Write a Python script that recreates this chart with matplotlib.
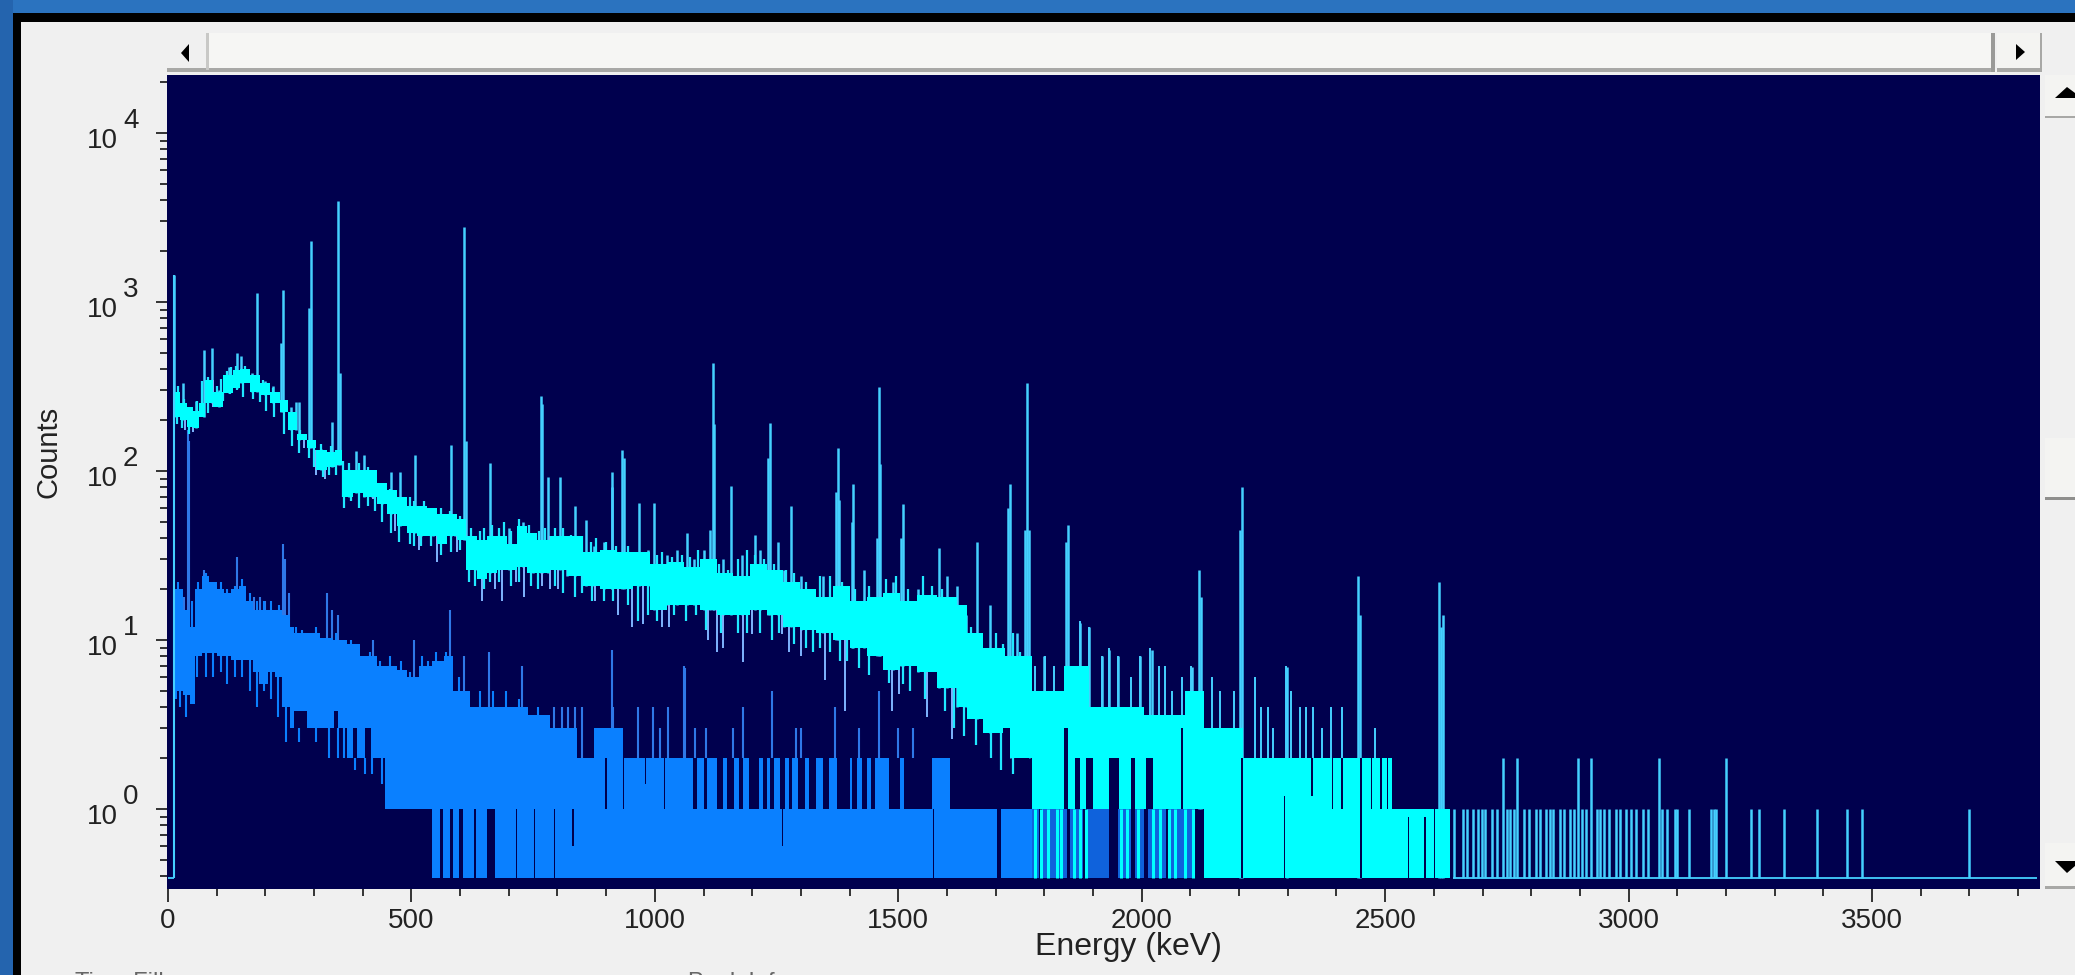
import numpy as np
import matplotlib
matplotlib.use('Agg')
import matplotlib.pyplot as plt
from matplotlib.patches import Rectangle, Polygon
from matplotlib.ticker import FixedLocator, NullFormatter

plt.rcParams['font.family'] = ['Liberation Sans', 'DejaVu Sans']

BG = '#00004e'
CYAN = '#00ffff'
BLUE = '#0a80ff'
SPIKE = '#45d0ff'
PALE = '#7fb4ff'
BLUE_LINE = '#2f78e8'

x_ticks = [0, 500, 1000, 1500, 2000, 2500, 3000, 3500]
decades = [0, 1, 2, 3, 4]

# upper spectrum: band of channel scatter (energy, low, high)
cyan_e = [14, 25, 40, 52, 64, 76, 93, 114, 134, 148, 168, 189, 209, 230, 247, 264, 285, 305, 326, 343,
          357, 381, 401, 429, 450, 470, 491, 511, 532, 552, 573, 593, 613, 634, 655, 675, 696, 716, 737, 757,
          785, 819, 853, 888, 922, 956, 990, 1025, 1059, 1093, 1127, 1161, 1195, 1230, 1264, 1298, 1332, 1366, 1401, 1435,
          1469, 1504, 1538, 1580, 1620, 1641, 1675, 1720, 1775, 1840, 1892, 2004, 2089, 2128, 2207, 2515, 2633, 2655]
cyan_lo = [210, 200, 183, 180, 210, 251, 240, 288, 308, 330, 295, 282, 251, 224, 175, 153, 136, 101, 106, 109,
           70, 74, 70, 64, 56, 47, 43, 41, 41, 37, 41, 39, 26, 23, 25, 26, 26, 27, 25, 25,
           26, 24, 21, 20, 20, 21, 15, 16, 16, 15, 14, 14, 15, 14, 12, 11.5, 11, 10, 9, 8,
           6.6, 7, 6.5, 5.2, 4, 3.4, 2.8, 2, 1, 1, 1, 1, 1, 0.39, 0.39, 0.39, 0.39, 0.39]
cyan_hi = [295, 251, 240, 225, 251, 346, 295, 370, 396, 400, 370, 330, 295, 262, 224, 165, 153, 133, 130, 133,
           101, 101, 101, 85, 77, 70, 62, 62, 60, 56, 56, 52, 41, 39, 41, 41, 37, 47, 43, 39,
           41, 41, 33, 34, 33, 33, 28, 29, 27, 30, 25, 24, 28, 26, 22, 20, 18, 21, 17, 18,
           19, 17, 18.5, 18, 16, 11, 9, 8, 5, 7, 4, 3.6, 5, 3, 2, 1, 0.39, 0.39]

# short channels on both edges of the upper band
cyan_top_e = [20, 33, 47, 60, 70, 83, 100, 108, 122, 130, 140, 158, 163, 178, 195, 203, 215, 225, 240, 255,
              272, 280, 300, 315, 335, 360, 372, 392, 410, 425, 440, 455, 463, 480, 498, 505, 525, 540, 560, 580,
              600, 622, 640, 650, 665, 680, 690, 705, 722, 742, 763, 775, 795, 812, 828, 845, 868, 880, 900, 920,
              945, 965, 975, 1005, 1015, 1035, 1055, 1072, 1088, 1105, 1132, 1150, 1170, 1190, 1205, 1225, 1245, 1270, 1285, 1310,
              1325, 1340, 1360, 1385, 1412, 1440, 1475, 1495, 1520, 1550, 1570, 1590, 1610, 1630, 1650, 1670, 1700, 1715, 1735, 1750]
cyan_top_v = [320, 265, 240, 260, 340, 360, 320, 350, 390, 410, 420, 420, 400, 370, 345, 330, 310, 290, 240, 200,
              175, 160, 150, 145, 140, 115, 112, 112, 105, 95, 85, 78, 76, 68, 70, 66, 66, 60, 60, 58,
              54, 46, 44, 46, 48, 46, 50, 44, 52, 48, 44, 46, 46, 46, 42, 38, 38, 40, 38, 36,
              36, 33, 31, 32, 33, 31, 32, 31, 34, 30, 28, 26, 30, 34, 32, 30, 28, 26, 25, 22,
              20, 24, 24, 22, 20, 21, 23, 24, 20, 24, 21, 20, 17, 15, 12, 10.5, 11, 9.5, 11, 8.5]
cyan_low_e = [18, 28, 43, 58, 68, 82, 100, 112, 128, 142, 155, 175, 190, 202, 218, 238, 255, 270, 290, 300,
              318, 330, 345, 362, 375, 392, 410, 425, 440, 458, 475, 498, 505, 520, 540, 560, 582, 600, 618, 630,
              650, 662, 680, 705, 722, 745, 760, 795, 812, 835, 850, 870, 895, 915, 945, 965, 985, 1005, 1040, 1065,
              1085, 1105, 1135, 1170, 1190, 1215, 1240, 1255, 1285, 1310, 1325, 1340, 1360, 1380, 1395, 1420, 1440, 1480, 1510, 1525,
              1555, 1595, 1615, 1635, 1660, 1690, 1710, 1735, 1755]
cyan_low_v = [190, 180, 165, 190, 230, 220, 260, 260, 285, 300, 275, 265, 255, 225, 210, 165, 140, 128, 120, 105,
              92, 95, 95, 60, 66, 60, 62, 58, 50, 43, 38, 37, 36, 36, 36, 32, 33, 34, 22, 21,
              20, 22, 22, 21, 22, 21, 20, 21, 19, 18, 19, 17, 17, 17, 16, 13, 14, 13, 14, 13,
              14, 11.5, 11, 11, 11, 11, 10, 11, 9.5, 9, 8.5, 9, 8.5, 7.5, 7.5, 6.8, 6.2, 5.6, 5.5, 5,
              4.5, 3.8, 3, 2.7, 2.4, 2, 1.7, 1.6, 1.4]

# line peaks and teeth above the upper band
cyan_peak_e = [12, 73, 91, 142, 150, 182, 233, 237, 262, 269, 290, 294, 337, 349, 354, 386, 402, 459, 477, 507,
               581, 607, 612, 661, 766, 769, 781, 805, 837, 859, 911, 913, 933, 936, 967, 999, 1067, 1114, 1119, 1122,
               1156, 1205, 1232, 1237, 1252, 1280, 1372, 1376, 1379, 1404, 1408, 1456, 1460, 1463, 1506, 1510, 1583, 1621, 1662, 1689,
               1726, 1730, 1743, 1760, 1764, 1768, 1800, 1845, 1849, 1873, 1892, 1919, 1933, 1951, 1997, 2021, 2103, 2118, 2121, 2202,
               2206, 2298, 2445, 2449, 2611, 2615, 2619,
               30, 58, 105, 125, 172, 200, 215, 252, 315, 372, 420, 440, 520, 545, 590, 630, 645, 700, 730, 750,
               820, 875, 895, 985, 1025, 1045, 1080, 1100, 1140, 1180, 1215, 1265, 1300, 1345, 1430, 1490, 1540, 1600, 1640]
cyan_peak_v = [1445, 520, 533, 500, 480, 1130, 570, 1175, 256, 256, 920, 2290, 195, 3980, 380, 132, 125, 98, 98, 124,
               142, 2770, 150, 112, 277, 250, 92, 92, 62, 51, 98, 80, 133, 120, 65, 65, 43, 45, 437, 190,
               82, 42, 120, 193, 38, 62, 75, 136, 67, 50, 84, 40, 315, 110, 40, 64, 35, 21, 38, 16,
               60, 84, 11, 45, 333, 45, 8, 38, 48, 12.6, 12, 8, 8.7, 8, 8, 8.7, 6.9, 26, 18, 45,
               80, 6.9, 24, 14, 22, 12, 14,
               330, 260, 300, 410, 380, 340, 320, 240, 135, 100, 78, 68, 52, 50, 42, 36, 34, 46, 50, 42,
               38, 36, 38, 34, 32, 34, 30, 34, 30, 32, 34, 26, 24, 24, 26, 22, 20, 24, 14]

# dips under the upper band
cyan_dip_e = [35, 52, 92, 279, 305, 323, 422, 467, 515, 553, 594, 645, 672, 686, 714, 732, 768, 785, 802, 877,
              925, 953, 975, 1015, 1029, 1110, 1128, 1140, 1182, 1199, 1261, 1275, 1300, 1350, 1390, 1465, 1488, 1501, 1560, 1610]
cyan_dip_v = [175, 170, 240, 136, 95, 90, 68, 44, 34, 29, 33, 17, 20, 17, 22, 18, 21, 20, 20, 17,
              14, 12, 12.5, 12, 12, 10, 8.5, 9, 7.4, 10.8, 10.8, 8.5, 8, 5.8, 3.8, 11, 3.8, 4.8, 3.5, 2.6]

# single channels above the band past 1775 keV
cyan_tooth_e = [1781, 1801, 1820, 1873, 1892, 1919, 1932, 1951, 1977, 1997, 2016, 2036, 2047, 2063, 2082, 2102, 2144, 2161, 2190, 2233,
                2246, 2259, 2270, 2296, 2306, 2325, 2338, 2351, 2388, 2412, 2480, 2370]
cyan_tooth_v = [7, 8, 7, 13, 12, 8, 9, 8, 6, 8, 9, 7, 7, 5, 6, 7, 6, 5, 5, 6,
                4, 4, 3, 7, 5, 4, 4, 4, 4, 4, 3, 3]

# single channels at one or two counts past the band
lone_e = [2743, 2771, 2896, 2923, 3062, 3200,
          2642, 2660, 2668, 2680, 2690, 2698, 2705, 2720, 2730, 2750, 2757, 2765, 2785, 2795,
          2810, 2818, 2830, 2838, 2845, 2860, 2868, 2880, 2888, 2905, 2912, 2935, 2942, 2950,
          2960, 2975, 2982, 2995, 3005, 3015, 3030, 3040, 3068, 3078, 3095, 3100, 3124, 3170,
          3175, 3180, 3252, 3268, 3320, 3388, 3449, 3480, 3700]
lone_v = [2, 2, 2, 2, 2, 2,
          1, 1, 1, 1, 1, 1, 1, 1, 1, 1, 1, 1, 1, 1,
          1, 1, 1, 1, 1, 1, 1, 1, 1, 1, 1, 1, 1, 1,
          1, 1, 1, 1, 1, 1, 1, 1, 1, 1, 1, 1, 1, 1,
          1, 1, 1, 1, 1, 1, 1, 1, 1]

# lower spectrum band
blue_e = [14, 30, 45, 55, 70, 85, 100, 115, 130, 145, 160, 175, 190, 205, 220, 235, 250, 258, 285, 312,
          339, 367, 394, 429, 446, 470, 491, 515, 542, 566, 586, 620, 680, 740, 785, 840, 875, 935, 1607, 1775]
blue_lo = [5, 4.7, 4.2, 8, 8.4, 8.4, 8, 8, 7.6, 7.6, 7.6, 6.5, 5.5, 6.5, 6, 4, 3, 3, 3, 3,
           3, 2, 2, 2, 1, 1, 1, 1, 0.39, 0.39, 0.39, 0.39, 0.39, 0.39, 0.39, 0.39, 0.39, 0.39, 0.39, 0.39]
blue_hi = [20, 15, 12, 20, 24, 22, 20, 19, 20, 21, 17, 15, 15, 15, 15, 14, 12, 11, 11, 10.3,
           10, 9.5, 8, 7, 7, 6.6, 6, 7, 7.5, 8, 5, 4, 4, 3.6, 3, 2, 3, 2, 1, 1]

blue_top_e = [20, 28, 36, 50, 62, 78, 95, 108, 122, 137, 152, 168, 182, 197, 212, 228, 244, 262, 275, 295,
              305, 320, 345, 358, 375, 385, 405, 415, 435, 455, 478, 498, 522, 535, 550, 572, 598, 612, 640, 668,
              695, 720, 760]
blue_top_v = [22, 16, 14, 17, 22, 25, 22, 22, 20, 21, 23, 19, 17, 17, 17, 16, 13, 12, 11.5, 11,
              12, 10, 11, 10, 10, 9.5, 8, 8.5, 7.5, 8, 7.5, 6.5, 8, 7.5, 8.5, 8.5, 6, 5, 5, 5,
              5, 4.5, 4]
blue_low_e = [16, 24, 38, 50, 60, 78, 93, 108, 122, 138, 152, 168, 183, 198, 212, 225, 243, 270, 305, 330,
              350, 362, 385, 405, 420, 440]
blue_low_v = [4.5, 4, 3.5, 5, 6, 6, 6, 6.5, 5.5, 6, 6, 5, 4, 5, 4.5, 3.5, 2.5, 2.5, 2.5, 2,
              2, 2, 1.7, 1.6, 1.6, 1.4]

blue_peak_e = [42, 44, 33, 73, 90, 142, 176, 190, 200, 237, 240, 248, 326, 337, 350, 422, 505, 580, 607, 659,
               727, 912, 1062, 792, 810, 822, 836, 851, 915, 965, 997, 1028, 1082, 1182, 1060, 1010, 1240, 1300, 1370, 1460,
               1530, 1105, 1160, 1290, 1420, 1500]
blue_peak_v = [175, 150, 18, 26, 22, 31, 18, 18, 17, 37, 30, 19, 19, 15, 14, 10, 10, 15, 8, 8.5,
               7, 8.7, 6.8, 4, 4, 4, 4, 4, 4, 4, 4, 4, 3, 4, 7, 3, 5, 3, 4, 5,
               3, 3, 3, 3, 3, 3]

# empty stretches cut out of the spectra (start, end, low, high)
gap_s = [258, 342, 380, 405, 528, 558, 579, 597, 628, 655, 714, 751, 792, 830, 898, 934, 980, 1018, 1026, 1078,
         1100, 1127, 1148, 1172, 1193, 1223, 1237, 1258, 1275, 1295, 1316, 1345, 1374, 1405, 1425, 1443, 1480, 1511, 1261, 1571,
         1634, 1703, 1788, 1846, 1880, 1932, 1978, 2005, 2050,
         1716, 1742, 1840, 1862, 1886, 1934, 1978, 2008, 2080, 2204, 2292, 2348, 2390, 2410, 2449, 2470, 2490, 2503, 2547, 2580,
         2600]
gap_e = [285, 350, 388, 416, 540, 565, 585, 606, 633, 672, 716, 753, 794, 833, 901, 937, 982, 1020, 1028, 1086,
         1107, 1141, 1162, 1182, 1213, 1230, 1245, 1268, 1282, 1309, 1330, 1358, 1401, 1415, 1435, 1453, 1504, 1569, 1263, 1573,
         1636, 1710, 1795, 1852, 1888, 1951, 1986, 2012, 2056,
         1729, 1768, 1849, 1873, 1899, 1954, 1987, 2023, 2085, 2207, 2295, 2351, 2393, 2413, 2452, 2473, 2493, 2506, 2550, 2583,
         2603]
gap_lo = [3, 3, 2, 2, 0.39, 0.39, 0.39, 0.39, 0.39, 0.39, 0.39, 0.39, 0.39, 0.6, 1, 1, 1.4, 1, 1, 1,
          1, 1, 1, 1, 1, 1, 1, 1, 1, 1, 1, 1, 1, 1, 1, 1, 1, 1, 0.6, 0.39,
          0.39, 0.39, 0.39, 0.39, 0.39, 0.39, 0.39, 0.39, 0.39,
          1, 1, 1, 1, 1, 1, 1, 1, 1, 0.39, 0.39, 1.2, 1, 1, 0.39, 1, 1, 1, 0.39, 0.39,
          0.39]
gap_hi = [3.8, 3.8, 3, 3, 1, 1, 1, 1, 1, 1, 1, 1, 1, 1, 2, 2, 2, 2, 2, 2,
          2, 2, 2, 2, 2, 2, 2, 2, 2, 2, 2, 2, 2, 2, 2, 2, 2, 2, 1, 1,
          1, 1, 1, 1, 1, 2, 1, 1, 1,
          3, 2, 3, 2, 2, 2, 2, 2, 3, 2, 1.2, 2, 2, 2, 2, 2, 2, 2, 0.9, 0.9,
          1]

# upper spectrum stripes reaching the bottom inside the blue zone
stripe_e = [1781, 1794, 1807, 1825, 1835, 1860, 1873, 1886, 1958, 1970, 1992, 2023, 2037, 2056, 2069, 2089, 2105]


def to_fig(x0, y0, x1, y1):
    return x0 / 2075, 1 - y1 / 975, (x1 - x0) / 2075, (y1 - y0) / 975


def band_at(edges, band, where):
    idx = np.clip(np.searchsorted(edges, where, side='right') - 1, 0, len(edges) - 1)
    return np.array(band)[idx]


fig = plt.figure(figsize=(20.75, 9.75), dpi=100, facecolor='#f0f0f0')


def box(x0, y0, x1, y1, color):
    l, b, w, h = to_fig(x0, y0, x1, y1)
    fig.add_artist(Rectangle((l, b), w, h, transform=fig.transFigure, color=color, lw=0))


def tri(points):
    pts = [(px / 2075, 1 - py / 975) for px, py in points]
    fig.add_artist(Polygon(pts, transform=fig.transFigure, color='black', lw=0))


# window frame
box(0, 0, 2075, 13, '#2b73bf')
box(0, 0, 13, 975, '#2464ae')
box(13, 13, 2075, 22, '#000000')
box(13, 13, 21, 975, '#000000')

# scroll bars
box(208, 33, 1995, 68, '#f6f6f4')
box(167, 68, 1995, 72, '#a8a8a6')
box(206, 33, 209, 70, '#c8c8c6')
box(1991, 33, 1995, 72, '#9a9a98')
box(1997, 33, 2040, 68, '#f4f4f2')
box(1997, 68, 2042, 72, '#a8a8a6')
box(2040, 33, 2042, 72, '#a8a8a6')
tri([(181, 53), (189, 44), (189, 62)])
tri([(2016, 44), (2016, 60), (2025, 52)])
box(2045, 75, 2075, 116, '#f4f4f2')
box(2045, 116, 2075, 118, '#a8a8a6')
box(2045, 438, 2075, 497, '#f4f4f2')
box(2045, 497, 2075, 500, '#8f8f8d')
box(2045, 843, 2075, 886, '#f4f4f2')
box(2045, 886, 2075, 889, '#a8a8a6')
tri([(2055, 98), (2067, 87), (2075, 93), (2075, 98)])
tri([(2055, 861), (2075, 861), (2075, 866), (2067, 873)])

ax = fig.add_axes(to_fig(167, 75, 2040, 889), facecolor=BG)
ax.set_yscale('log')
ax.set_xlim(-2, 3845)
ax.set_ylim(0.336, 22030)

# upper spectrum
ax.fill_between(cyan_e, cyan_lo, cyan_hi, step='post', color=CYAN, lw=0, zorder=2)
ax.vlines(cyan_top_e, band_at(cyan_e, cyan_lo, cyan_top_e), cyan_top_v, color='#20e8ff', lw=1.6, zorder=1.8)
ax.vlines(cyan_low_e, cyan_low_v, band_at(cyan_e, cyan_hi, cyan_low_e), color='#20e8ff', lw=1.6, zorder=1.8)
ax.vlines(cyan_peak_e, band_at(cyan_e, cyan_lo, cyan_peak_e), cyan_peak_v, color=SPIKE, lw=1.8, zorder=1.5)
ax.vlines(cyan_dip_e, cyan_dip_v, band_at(cyan_e, cyan_hi, cyan_dip_e), color=PALE, lw=1.4, zorder=1.5)
ax.vlines(cyan_tooth_e, 1, cyan_tooth_v, color=SPIKE, lw=1.4, zorder=1.5)
ax.vlines(lone_e, 0.39, lone_v, color=SPIKE, lw=1.8, zorder=2)
ax.hlines(0.39, 2640, 3838, color=SPIKE, lw=1.3, zorder=2)

# lower spectrum
ax.fill_between(blue_e, blue_lo, blue_hi, step='post', color=BLUE, lw=0, zorder=3)
ax.bar(1775, 1 - 0.39, bottom=0.39, width=335, align='edge', color='#0f62dc', lw=0, zorder=3)
ax.vlines(blue_top_e, band_at(blue_e, blue_lo, blue_top_e), blue_top_v, color=BLUE, lw=1.5, zorder=2.8)
ax.vlines(blue_low_e, blue_low_v, band_at(blue_e, blue_hi, blue_low_e), color=BLUE, lw=1.5, zorder=2.8)
ax.vlines(blue_peak_e, band_at(blue_e, blue_lo, blue_peak_e), blue_peak_v, color=BLUE_LINE, lw=1.5, zorder=1.6)
ax.bar(gap_s, np.array(gap_hi) - np.array(gap_lo), bottom=gap_lo,
       width=np.array(gap_e) - np.array(gap_s), align='edge', color=BG, lw=0, zorder=3.5)
ax.vlines(stripe_e, 0.39, 1, color=CYAN, lw=2.2, zorder=4)
ax.vlines([12], 0.39, 1445, color=SPIKE, lw=1.5, zorder=5)
ax.hlines(0.39, 0, 12, color=SPIKE, lw=1.3, zorder=5)

for side in ax.spines.values():
    side.set_visible(False)

ax.xaxis.set_major_locator(FixedLocator(x_ticks))
ax.xaxis.set_minor_locator(FixedLocator(np.arange(0, 3900, 100)))
ax.xaxis.set_minor_formatter(NullFormatter())
ax.tick_params(axis='x', which='major', length=9, width=1.1, color='black', labelsize=20, pad=5, labelcolor='#222222')
ax.tick_params(axis='x', which='minor', length=5, width=1.1, color='black')
ax.yaxis.set_major_locator(FixedLocator([10.0 ** k for k in decades]))
ax.yaxis.set_minor_locator(FixedLocator([m * 10.0 ** k for k in range(-1, 5) for m in range(2, 10)]))
ax.yaxis.set_major_formatter(NullFormatter())
ax.yaxis.set_minor_formatter(NullFormatter())
ax.tick_params(axis='y', which='major', length=8, width=1.1, color='black')
ax.tick_params(axis='y', which='minor', length=5, width=1.1, color='black')

for k in decades:
    ax.annotate('10', xy=(0, 10.0 ** k), xycoords=('axes fraction', 'data'), xytext=(-80, -8),
                textcoords='offset pixels', fontsize=20, color='#222222', ha='left', va='center', annotation_clip=False)
    ax.annotate(str(k), xy=(0, 10.0 ** k), xycoords=('axes fraction', 'data'), xytext=(-44, 12),
                textcoords='offset pixels', fontsize=20, color='#222222', ha='left', va='center', annotation_clip=False)

fig.text(48 / 2075, 1 - 452 / 975, 'Counts', rotation=90, fontsize=21, color='#222222', ha='center', va='center')
fig.text(1128 / 2075, 1 - 947 / 975, 'Energy (keV)', fontsize=23, color='#222222', ha='center', va='center')
fig.text(75 / 2075, 1 - 972 / 975, 'Time Fill', fontsize=17, color='#666666', ha='left', va='top')
fig.text(688 / 2075, 1 - 972 / 975, 'Peak Info', fontsize=17, color='#666666', ha='left', va='top')

fig.savefig('out.png', dpi=100, facecolor=fig.get_facecolor())
